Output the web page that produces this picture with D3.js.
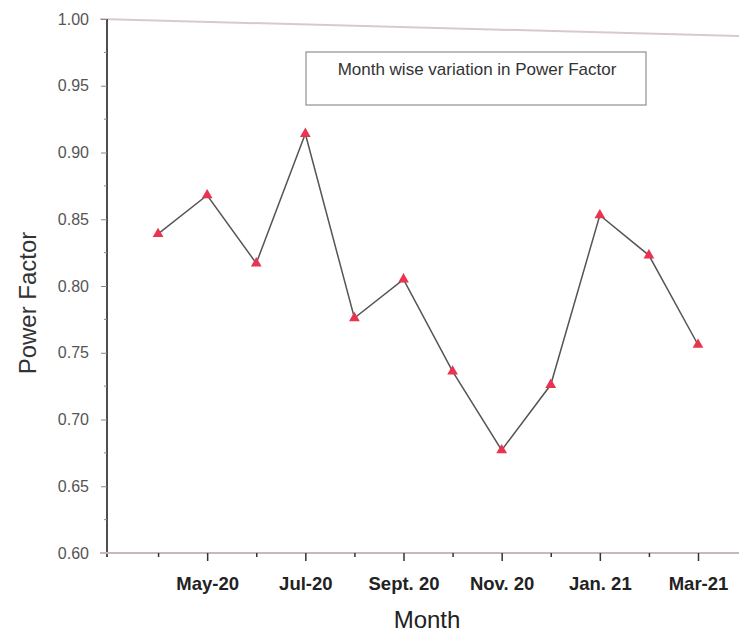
<!DOCTYPE html>
<html><head><meta charset="utf-8">
<script src="https://cdn.jsdelivr.net/npm/d3@7"></script>
<style>body{margin:0;background:#fff;}svg{display:block;}</style>
</head><body>
<svg id="c" width="739" height="635"></svg>
<script>
const months = ["Apr-20","May-20","Jun-20","Jul-20","Aug-20","Sept. 20","Oct. 20","Nov. 20","Dec. 20","Jan. 21","Feb. 21","Mar-21"];
const powerFactor = [0.839, 0.868, 0.817, 0.914, 0.776, 0.805, 0.736, 0.677, 0.726, 0.853, 0.823, 0.756];
const xTickLabels = {1:"May-20",3:"Jul-20",5:"Sept. 20",7:"Nov. 20",9:"Jan. 21",11:"Mar-21"};
const yTicks = [0.60,0.65,0.70,0.75,0.80,0.85,0.90,0.95,1.00];
const legendText = "Month wise variation in Power Factor";

const FONT = "Liberation Sans, Arial, sans-serif";
const svg = d3.select("#c");
const x = d3.scaleLinear().domain([-1, 11]).range([109, 698]);
const y = d3.scaleLinear().domain([0.60, 1.00]).range([553, 19]);
const axisX0 = 107;

// top frame line (slightly skewed in photo)
svg.append("line").attr("x1",100).attr("y1",19).attr("x2",739).attr("y2",36)
  .attr("stroke","#d9c9cc").attr("stroke-width",2);

// Y axis
const yAxis = d3.axisLeft(y).tickValues(yTicks).tickSize(6).tickPadding(12)
  .tickFormat(d3.format(".2f"));
const gy = svg.append("g").attr("transform",`translate(${axisX0},0)`).call(yAxis);
gy.select(".domain").attr("stroke","#222").attr("stroke-width",1.6)
  .attr("d", `M0,${y(1.0)}V${y(0.6)+4}`);
gy.selectAll(".tick line").attr("stroke","#888").attr("stroke-width",1);
gy.selectAll(".tick text").attr("fill","#555").attr("font-family",FONT).attr("font-size",16);
const yMinor = d3.range(0.625, 1.0, 0.05);
gy.selectAll(".minor").data(yMinor).enter().append("line")
  .attr("x1",-3).attr("x2",0).attr("y1",d=>y(d)).attr("y2",d=>y(d))
  .attr("stroke","#888").attr("stroke-width",1);

// X axis
const gx = svg.append("g").attr("transform",`translate(0,${y(0.6)})`);
gx.append("line").attr("x1",100).attr("x2",739).attr("y1",0).attr("y2",0)
  .attr("stroke","#c9b8bb").attr("stroke-width",2);
const xAxis = d3.axisBottom(x).tickValues(d3.range(0,12)).tickSize(0)
  .tickFormat(i => xTickLabels[i] || "");
gx.call(xAxis);
gx.select(".domain").remove();
gx.selectAll(".tick line").remove();
gx.selectAll(".tick").append("line")
  .attr("y1",0).attr("y2",(d)=> xTickLabels[d] ? 8 : 4)
  .attr("stroke","#333").attr("stroke-width",1.5);
gx.selectAll(".tick text").attr("dy",0).attr("y",37)
  .attr("fill","#222").attr("font-family",FONT).attr("font-size",18.5).attr("font-weight","bold");

// line
const line = d3.line().x((d,i)=>x(i)).y(d=>y(d));
svg.append("path").datum(powerFactor).attr("d",line)
  .attr("fill","none").attr("stroke","#555").attr("stroke-width",1.5);

// markers
svg.selectAll(".pt").data(powerFactor).enter().append("path")
  .attr("transform",(d,i)=>`translate(${x(i)},${y(d)})`)
  .attr("d", d3.symbol().type(d3.symbolTriangle).size(50))
  .attr("fill","#e8344e");

// legend box
svg.append("rect").attr("x",306).attr("y",52).attr("width",340).attr("height",53)
  .attr("fill","#fff").attr("stroke","#999").attr("stroke-width",1.3);
svg.append("text").attr("x",477).attr("y",75).attr("text-anchor","middle")
  .attr("font-family",FONT).attr("font-size",17)
  .attr("fill","#333").text(legendText);

// axis titles
svg.append("text").attr("x",427).attr("y",628).attr("text-anchor","middle")
  .attr("font-family",FONT).attr("font-size",24)
  .attr("fill","#222").text("Month");
svg.append("text").attr("transform","translate(36,303) rotate(-90)").attr("text-anchor","middle")
  .attr("font-family",FONT).attr("font-size",24)
  .attr("fill","#333").text("Power Factor");
</script>
</body></html>
